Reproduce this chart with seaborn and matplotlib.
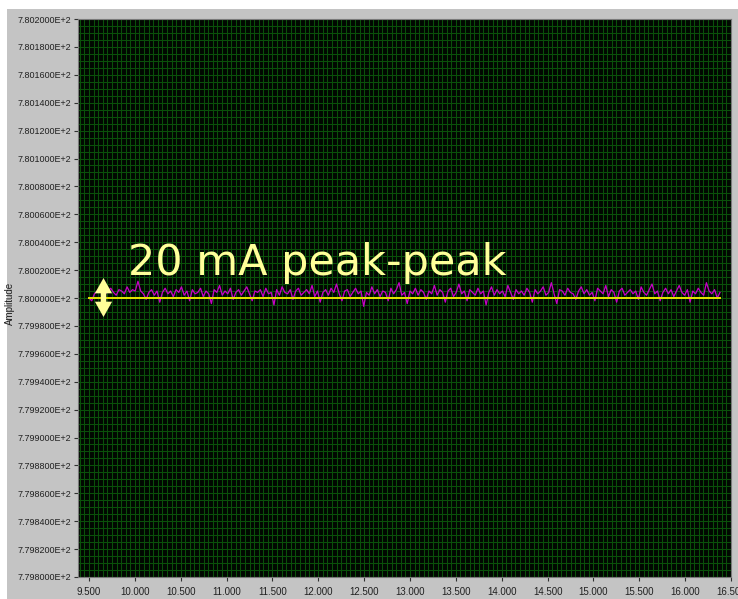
import numpy as np
import pandas as pd
import matplotlib
matplotlib.use("Agg")
import matplotlib.pyplot as plt
from matplotlib.ticker import MultipleLocator, FuncFormatter
from matplotlib.patches import Rectangle
import seaborn as sns

# ---------------- data ----------------
base_level = 780.0          # amplitude (shown as 7.800000E+2)
t_start, t_end = 9.5, 16.38  # time span of the acquired trace
# deviation of each sample from the base level, in thousandths
deviation_milli = [
    0, -2, 3, 5, 4, 6, 3, 5, 7, 4, 2, 6, 5, 3, 8, 4, 6, 5, 12, 5,
    3, -1, 4, 6, 2, 5, -3, 4, 7, 3, 5, 1, 6, 4, 8, 2, 5, -2, 6, 3,
    4, 7, 1, 5, 3, -4, 6, 4, 9, 2, 5, 3, 7, -1, 4, 6, 2, 5, 8, 3,
    -2, 5, 4, 6, 1, 7, 3, 4, -5, 6, 2, 8, 4, 3, 6, -1, 5, 7, 2, 4,
    6, 3, 9, 1, 5, -3, 4, 6, 2, 7, 4, 10, 3, -2, 5, 6, 1, 4, 7, 3,
    5, -6, 4, 2, 8, 3, 6, 1, 5, 4, -2, 7, 3, 6, 11, 2, 4, -4, 5, 3,
    7, 2, 6, 4, -1, 5, 3, 9, 2, 6, 4, -3, 5, 7, 1, 4, 10, 3, 5, -2,
    6, 4, 2, 7, 3, 5, -5, 4, 8, 2, 6, 3, 5, 1, 9, 4, -1, 6, 3, 5,
    2, 7, 4, -3, 6, 3, 5, 8, 2, 4, 11, 3, -4, 6, 5, 2, 7, 4, 3, -1,
    5, 8, 3, 6, 2, 4, -2, 7, 5, 3, 9, 1, 6, 4, -3, 5, 7, 2, 4, 6,
    3, 5, -1, 8, 4, 2, 6, 10, 3, 5, -2, 4, 7, 3, 6, 1, 5, 9, 4, 2,
    6, -3, 5, 3, 7, 4, 2, 11, 5, 3, 6, 0, 4,
]
ref_x = [t_start, t_end]
ref_y = [base_level, base_level]
x_ticks = [9.5, 10.0, 10.5, 11.0, 11.5, 12.0, 12.5, 13.0, 13.5, 14.0, 14.5, 15.0, 15.5, 16.0, 16.5]
y_min, y_max, y_step = 779.8, 780.2, 0.02
annotation_text = "20 mA peak-peak"

trace = pd.DataFrame({
    "t": np.linspace(t_start, t_end, len(deviation_milli)),
    "amp": base_level + np.array(deviation_milli) / 1000.0,
})

# ---------------- figure ----------------
plt.rcParams["font.family"] = ["Liberation Sans", "DejaVu Sans"]
fig = plt.figure(figsize=(7.38, 5.99), dpi=100)
fig.patch.set_facecolor("white")
fig.add_artist(Rectangle((7 / 738, 0), 1, 1 - 9 / 599, transform=fig.transFigure,
                         facecolor="#c4c4c4", edgecolor="none", zorder=-10))

ax = fig.add_axes([78 / 738, 1 - 577 / 599, (731 - 78) / 738, (577 - 19) / 599])
ax.set_facecolor("#010801")

sns.lineplot(data=trace, x="t", y="amp", ax=ax, color="#c800c8", lw=0.9, zorder=3)
sns.lineplot(x=ref_x, y=ref_y, ax=ax, color="#e6e600", lw=1.4, zorder=4)

ax.set_xlim(9.38, 16.5)
ax.set_ylim(y_min, y_max)
ax.set_xticks(x_ticks)
ax.set_yticks(np.arange(y_min, y_max + y_step / 2, y_step))
ax.xaxis.set_major_formatter(FuncFormatter(lambda v, _: f"{v:.3f}"))
ax.yaxis.set_major_formatter(FuncFormatter(lambda v, _: f"{v / 100:.6f}E+2"))
ax.xaxis.set_minor_locator(MultipleLocator(0.05))
ax.yaxis.set_minor_locator(MultipleLocator(0.005))
ax.grid(which="both", color="#0a500a", lw=0.75, zorder=0)
ax.set_axisbelow(True)
ax.tick_params(which="minor", length=0)
ax.tick_params(which="major", length=3, color="#303030", labelsize=6.5, labelcolor="#202020", pad=2)
ax.tick_params(axis="x", pad=4, labelsize=7)
for s in ax.spines.values():
    s.set_color("#7a7a7a")
    s.set_linewidth(0.8)

ax.set_xlabel("")
ax.set_ylabel("Amplitude", fontsize=7, color="#202020", labelpad=2)
ax.yaxis.set_label_coords(-0.097, 0.49)

ax.text(9.925, 780.0165, annotation_text, color="#ffff99", fontsize=31,
        family="DejaVu Sans", va="baseline", ha="left", zorder=6)
# double-headed arrow drawn as two filled arrows from the centre outward
arrow_x, arrow_mid = 9.658, 780.0
for tip in (780.0143, 779.9864):
    ax.annotate("", xy=(arrow_x, tip), xytext=(arrow_x, arrow_mid),
                arrowprops=dict(arrowstyle="simple,head_length=0.55,head_width=0.62,tail_width=0.2",
                                color="#ffff99", lw=0, mutation_scale=20,
                                shrinkA=0, shrinkB=0), zorder=6)

fig.savefig("out.png", dpi=100)
